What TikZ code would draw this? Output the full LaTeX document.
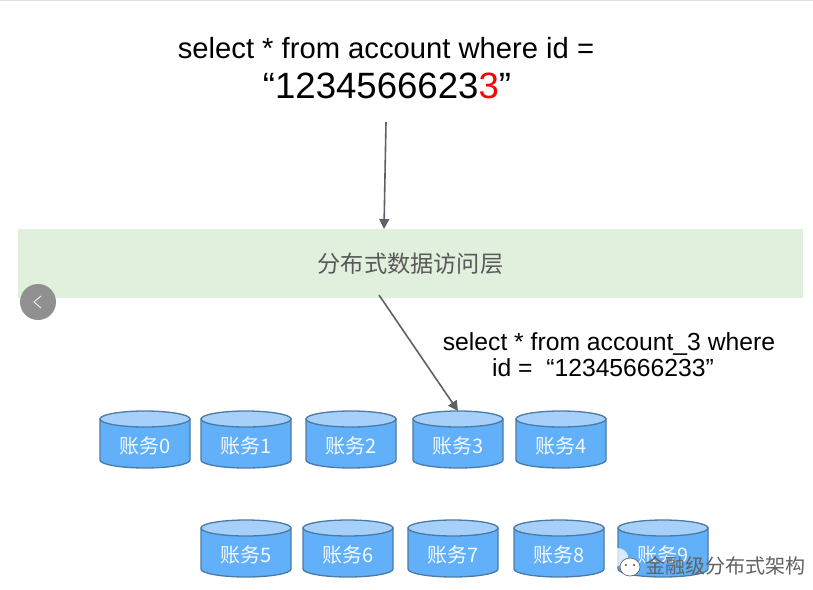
\documentclass[tikz,border=0pt]{standalone}
\usepackage{fontspec}
\setmainfont{Liberation Sans}
\newfontfamily\cjk{Noto Sans CJK SC}
\definecolor{layerfill}{HTML}{E0F0DC}
\definecolor{cylfill}{HTML}{62B0FA}
\definecolor{cyltop}{HTML}{A6D0FA}
\definecolor{cylline}{HTML}{4A7BA6}
\definecolor{arrowc}{HTML}{5E6167}
\definecolor{btn}{HTML}{909090}
\usetikzlibrary{arrows.meta}
\tikzset{
 x=1pt,y=-1pt,
 conn/.style={draw=arrowc,line width=1.6pt,-{Triangle[length=10pt,width=10pt]}},
 cyllabel/.style={text=white!92!cylfill,font=\cjk\fontsize{20}{22}\selectfont,inner sep=0pt,minimum width=90pt,minimum height=58pt,text depth=0pt},
 sqltext/.style={align=center,inner sep=0pt,text=black},
}
\newcommand{\cylinder}[4]{% name, cx, top y, label
  \begin{scope}[shift={(#2,#3)}]
    \path[fill=cylfill,draw=cylline,line width=1.3pt] (-45,8) -- (-45,49) arc[x radius=45,y radius=8,start angle=180,end angle=0] -- (45,8) -- cycle;
    \path[fill=cyltop,draw=cylline,line width=1.3pt] (0,8) ellipse[x radius=45,y radius=8];
  \end{scope}
  \node[cyllabel] (#1) at (#2,#3+29+5) {#4};
  \coordinate (#1top) at (#2,#3);
}
\begin{document}
\begin{tikzpicture}
\useasboundingbox (0,0) rectangle (813,589);
\fill[white] (0,0) rectangle (813,589);
\fill[black!12] (0,0) rectangle (813,1);
\node[fill=layerfill,minimum width=785pt,minimum height=69pt,inner sep=0pt,text=black!65,font=\cjk\fontsize{23.2}{25}\selectfont] (layer) at (410.5,263.5) {\raisebox{-2.5pt}{分布式数据访问层}};
\node[sqltext,font=\fontsize{29.2}{32}\selectfont,anchor=base] (sql1) at (386,58) {select * from account where id =};
\node[sqltext,font=\fontsize{36.6}{38}\selectfont,anchor=base] (sql2) at (387,98) {“1234566623\textcolor{red}{3}”};
\node[sqltext,font=\fontsize{24.7}{27}\selectfont,anchor=base] (sub1) at (609,350) {select * from account\_3 where};
\node[sqltext,font=\fontsize{24.7}{27}\selectfont,anchor=base] (sub2) at (603,376) {id =\ \ “12345666233”};
\cylinder{c0}{145}{411}{账务0}
\cylinder{c1}{246}{411}{账务1}
\cylinder{c2}{351}{411}{账务2}
\cylinder{c3}{458}{411}{账务3}
\cylinder{c4}{561}{411}{账务4}
\cylinder{c5}{246}{520}{账务5}
\cylinder{c6}{348}{520}{账务6}
\cylinder{c7}{453}{520}{账务7}
\cylinder{c8}{559}{520}{账务8}
\cylinder{c9}{663}{520}{账务9}
\coordinate (a1) at (386,122);
\coordinate (a1e) at (384,229);
\coordinate (a2) at (379,295);
\draw[conn] (a1) -- (a1e);
\draw[conn] (a2) -- (c3top);
% carousel button
\node[circle,fill=btn,minimum size=36pt,inner sep=0pt] (prev) at (38,302) {};
\coordinate (p1) at (41,296);
\coordinate (p2) at (34,302);
\coordinate (p3) at (41,308);
\draw[white,line width=.8pt] (p1) -- (p2) -- (p3);
% watermark
\path[fill=white,fill opacity=.75] (617,557) ellipse[x radius=11,y radius=9];
\path[fill=white,draw=black!60,line width=.7pt] (630,567) ellipse[x radius=10,y radius=9];
\fill[black!70] (626,565) circle (1.1) (634,565) circle (1.1);
\node[text=black!62,font=\cjk\fontsize{20}{22}\selectfont,inner sep=0pt,anchor=west] (wm) at (645,566) {金融级分布式架构};
\end{tikzpicture}
\end{document}
